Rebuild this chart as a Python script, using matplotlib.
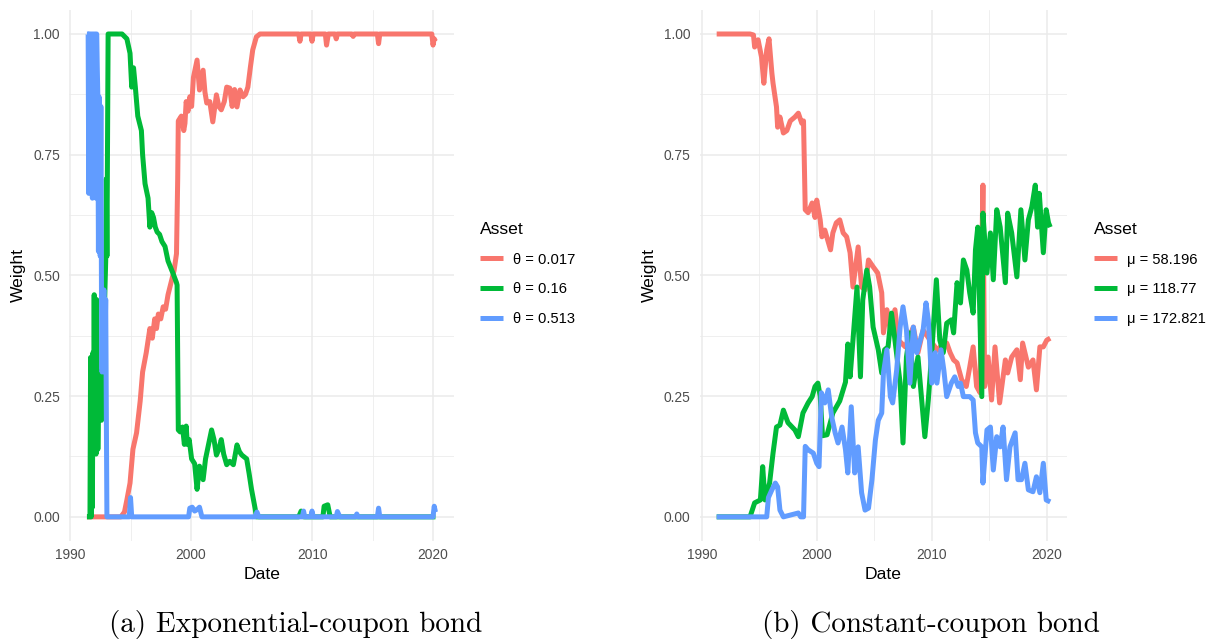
import numpy as np
import matplotlib
matplotlib.use("Agg")
import matplotlib.pyplot as plt

plt.rcParams['font.family'] = ['Liberation Sans', 'DejaVu Sans']

# ggplot default hue palette
COLS = ['#F8766D', '#00BA38', '#619CFF']

# ---- (a) exponential-coupon bond, weights by decay rate theta ----
exp_labels = ['θ = 0.017', 'θ = 0.16', 'θ = 0.513']

exp_r_t = [1991.4, 1994.2, 1994.5, 1994.7, 1994.96, 1995.2, 1995.5, 1995.8, 1996.0, 1996.3,
           1996.6, 1996.8, 1997.0, 1997.15, 1997.3, 1997.5, 1997.7, 1997.9, 1998.1, 1998.4,
           1998.6, 1998.8, 1998.9, 1998.95, 1999.2, 1999.4, 1999.5, 1999.6, 1999.75, 1999.9,
           2000.05, 2000.2, 2000.5, 2000.7, 2001.0, 2001.15, 2001.3, 2001.55, 2001.8, 2002.1,
           2002.3, 2002.5, 2002.75, 2002.95, 2003.2, 2003.4, 2003.6, 2003.8, 2004.05, 2004.3,
           2004.5, 2004.7, 2004.9, 2005.1, 2005.4, 2005.7, 2008.9, 2009.0, 2009.1, 2009.9,
           2010.0, 2010.1, 2011.1, 2011.2, 2011.35, 2011.9, 2012.0, 2012.1, 2013.3, 2013.4,
           2013.5, 2015.4, 2015.5, 2015.6, 2019.9, 2020.0, 2020.1, 2020.2]
exp_r_w = [0, 0, 0.01, 0.035, 0.07, 0.14, 0.174, 0.24, 0.30, 0.34,
           0.39, 0.37, 0.41, 0.39, 0.42, 0.41, 0.435, 0.43, 0.46, 0.49,
           0.51, 0.545, 0.70, 0.82, 0.83, 0.80, 0.815, 0.86, 0.84, 0.87,
           0.85, 0.91, 0.946, 0.884, 0.925, 0.88, 0.857, 0.86, 0.818, 0.874,
           0.85, 0.843, 0.86, 0.89, 0.888, 0.85, 0.885, 0.849, 0.884, 0.87,
           0.875, 0.89, 0.93, 0.967, 0.994, 1.0, 1.0, 0.985, 1.0, 1.0,
           0.985, 1.0, 1.0, 0.977, 1.0, 1.0, 0.99, 1.0, 1.0, 0.995,
           1.0, 1.0, 0.98, 1.0, 1.0, 0.977, 0.99, 0.985]

exp_g_t = [1991.4, 1991.65, 1991.7, 1991.75, 1991.8, 1991.85, 1991.9, 1991.95, 1992.0, 1992.05,
           1992.1, 1992.15, 1992.2, 1992.3, 1992.4, 1992.6, 1992.95, 1993.0, 1993.05, 1993.15,
           1994.3, 1994.5, 1994.7, 1994.96, 1995.1, 1995.25, 1995.4, 1995.6, 1995.9, 1996.0,
           1996.2, 1996.45, 1996.6, 1996.75, 1996.9, 1997.05, 1997.2, 1997.4, 1997.6, 1997.85,
           1998.1, 1998.5, 1998.8, 1998.85, 1998.95, 1999.1, 1999.3, 1999.45, 1999.6, 1999.7,
           1999.85, 2000.05, 2000.3, 2000.5, 2000.7, 2001.0, 2001.2, 2001.4, 2001.7, 2001.9,
           2002.1, 2002.3, 2002.5, 2002.7, 2002.95, 2003.2, 2003.5, 2003.8, 2004.0, 2004.2,
           2004.6, 2004.8, 2005.0, 2005.3, 2005.4, 2008.9, 2009.1, 2009.3, 2010.9, 2011.0,
           2011.3, 2011.5, 2020.2]
exp_g_w = [0, 0, 0.33, 0.0, 0.30, 0.02, 0.34, 0.13, 0.46, 0.15,
           0.44, 0.13, 0.45, 0.14, 0.30, 0.20, 0.53, 0.70, 0.54, 1.0,
           1.0, 0.995, 0.99, 0.96, 0.89, 0.93, 0.89, 0.83, 0.80, 0.75,
           0.69, 0.66, 0.60, 0.63, 0.62, 0.60, 0.59, 0.585, 0.57, 0.56,
           0.53, 0.505, 0.485, 0.48, 0.18, 0.176, 0.186, 0.15, 0.188, 0.15,
           0.16, 0.12, 0.11, 0.057, 0.105, 0.077, 0.12, 0.144, 0.18, 0.16,
           0.128, 0.14, 0.16, 0.13, 0.108, 0.115, 0.108, 0.149, 0.135, 0.128,
           0.12, 0.09, 0.057, 0.017, 0, 0, 0.012, 0, 0, 0.022,
           0.025, 0, 0]

exp_b_t = [1991.4, 1991.5, 1991.55, 1991.6, 1991.7, 1991.75, 1991.85, 1991.9, 1992.0, 1992.05,
           1992.15, 1992.2, 1992.3, 1992.35, 1992.4, 1992.5, 1992.55, 1992.6, 1992.65, 1992.7,
           1992.75, 1992.8, 1992.85, 1992.95, 1993.05, 1994.9, 1995.0, 1995.1, 1999.8, 1999.9,
           2000.1, 2000.3, 2000.5, 2000.7, 2000.9, 2005.3, 2005.45, 2005.6, 2009.2, 2009.3,
           2009.4, 2009.9, 2010.0, 2010.1, 2012.0, 2012.1, 2012.3, 2013.6, 2013.7, 2013.8,
           2015.4, 2015.5, 2015.6, 2020.0, 2020.1, 2020.2]
exp_b_w = [1.0, 1.0, 0.67, 1.0, 0.70, 1.0, 0.66, 1.0, 0.68, 1.0,
           0.66, 1.0, 0.87, 0.55, 0.87, 0.54, 0.85, 0.47, 0.30, 0.46,
           0.31, 0.47, 0.30, 0.45, 0, 0, 0.04, 0, 0, 0.018,
           0.02, 0.012, 0.015, 0.02, 0, 0, 0.01, 0, 0, 0.012,
           0, 0, 0.012, 0, 0, 0.011, 0, 0, 0.006, 0,
           0, 0.018, 0, 0, 0.022, 0.01]

# ---- (b) constant-coupon bond, weights by coupon mu ----
con_labels = ['μ = 58.196', 'μ = 118.77', 'μ = 172.821']

con_r_t = [1991.3, 1994.2, 1994.5, 1994.6, 1994.9, 1995.2, 1995.4, 1995.65, 1995.85, 1996.1,
           1996.2, 1996.5, 1996.6, 1996.8, 1997.1, 1997.4, 1997.7, 1998.1, 1998.4, 1998.7,
           1998.85, 1999.0, 1999.25, 1999.6, 1999.85, 2000.0, 2000.3, 2000.45, 2000.7, 2001.2,
           2001.4, 2001.7, 2002.0, 2002.3, 2002.6, 2002.9, 2003.15, 2003.6, 2003.9, 2004.2,
           2004.5, 2004.9, 2005.3, 2005.65, 2005.8, 2006.1, 2006.4, 2006.8, 2007.1, 2007.7,
           2008.4, 2008.8, 2009.25, 2009.85, 2010.5, 2011.0, 2011.3, 2011.6, 2011.9, 2012.2,
           2012.6, 2013.0, 2013.3, 2013.6, 2013.9, 2014.2, 2014.35, 2014.45, 2014.6, 2014.9,
           2015.2, 2015.5, 2015.9, 2016.4, 2016.6, 2016.95, 2017.4, 2017.7, 2017.9, 2018.4,
           2018.8, 2019.1, 2019.4, 2019.7, 2020.0, 2020.3]
con_r_w = [1.0, 1.0, 0.998, 0.973, 0.988, 0.952, 0.898, 0.967, 0.99, 0.919,
           0.898, 0.849, 0.807, 0.828, 0.795, 0.80, 0.82, 0.828, 0.836, 0.815,
           0.82, 0.636, 0.63, 0.65, 0.62, 0.656, 0.615, 0.58, 0.594, 0.553,
           0.588, 0.609, 0.615, 0.588, 0.58, 0.547, 0.476, 0.559, 0.476, 0.47,
           0.532, 0.518, 0.505, 0.464, 0.381, 0.429, 0.387, 0.429, 0.366, 0.352,
           0.393, 0.34, 0.387, 0.366, 0.345, 0.36, 0.36, 0.34, 0.325, 0.319,
           0.284, 0.27, 0.31, 0.352, 0.27, 0.257, 0.547, 0.687, 0.27, 0.331,
           0.242, 0.352, 0.236, 0.325, 0.298, 0.331, 0.346, 0.284, 0.36, 0.31,
           0.325, 0.263, 0.352, 0.352, 0.366, 0.37]

con_g_t = [1991.3, 1994.2, 1994.6, 1995.1, 1995.3, 1995.5, 1995.9, 1996.2, 1996.5, 1996.8,
           1997.1, 1997.5, 1998.1, 1998.4, 1998.8, 1999.25, 1999.6, 1999.85, 2000.1, 2000.3,
           2000.5, 2000.9, 2001.4, 2002.0, 2002.5, 2002.7, 2002.9, 2003.15, 2003.5, 2003.8,
           2004.0, 2004.35, 2004.6, 2004.9, 2005.35, 2005.65, 2005.9, 2006.2, 2006.5, 2006.8,
           2007.25, 2007.5, 2007.8, 2008.1, 2008.4, 2008.8, 2009.1, 2009.4, 2009.7, 2010.0,
           2010.4, 2010.7, 2011.0, 2011.3, 2011.7, 2011.9, 2012.2, 2012.5, 2012.75, 2013.05,
           2013.3, 2013.6, 2013.8, 2014.0, 2014.35, 2014.45, 2014.8, 2015.1, 2015.35, 2015.65,
           2015.95, 2016.4, 2016.6, 2016.95, 2017.4, 2017.75, 2018.1, 2018.4, 2018.7, 2019.0,
           2019.2, 2019.35, 2019.7, 2019.95, 2020.15, 2020.3]
con_g_w = [0, 0, 0.029, 0.035, 0.104, 0.035, 0.07, 0.132, 0.186, 0.19,
           0.221, 0.195, 0.18, 0.166, 0.215, 0.236, 0.249, 0.27, 0.277, 0.25,
           0.168, 0.17, 0.215, 0.24, 0.279, 0.358, 0.29, 0.366, 0.476, 0.29,
           0.449, 0.511, 0.476, 0.393, 0.346, 0.298, 0.346, 0.352, 0.422, 0.366,
           0.277, 0.153, 0.331, 0.381, 0.27, 0.331, 0.249, 0.166, 0.242, 0.34,
           0.491, 0.366, 0.34, 0.401, 0.408, 0.381, 0.485, 0.443, 0.532, 0.511,
           0.464, 0.422, 0.553, 0.60, 0.249, 0.629, 0.505, 0.588, 0.491, 0.636,
           0.60, 0.485, 0.629, 0.588, 0.497, 0.636, 0.532, 0.615, 0.642, 0.687,
           0.60, 0.67, 0.547, 0.636, 0.609, 0.60]

con_b_t = [1991.3, 1995.65, 1995.8, 1996.1, 1996.4, 1996.6, 1996.8, 1997.1, 1998.4, 1998.6,
           1998.85, 1999.0, 1999.25, 1999.7, 2000.0, 2000.2, 2000.4, 2000.7, 2001.0, 2001.3,
           2001.6, 2001.85, 2002.2, 2002.5, 2002.7, 2003.0, 2003.3, 2003.6, 2003.9, 2004.2,
           2004.5, 2004.8, 2005.1, 2005.35, 2005.65, 2005.8, 2006.1, 2006.4, 2006.6, 2006.95,
           2007.25, 2007.5, 2007.8, 2008.1, 2008.4, 2008.7, 2009.0, 2009.25, 2009.5, 2009.7,
           2010.0, 2010.3, 2010.45, 2010.8, 2011.05, 2011.3, 2011.7, 2012.0, 2012.3, 2012.5,
           2012.75, 2013.3, 2013.6, 2013.8, 2014.0, 2014.35, 2014.45, 2014.8, 2015.1, 2015.35,
           2015.65, 2015.95, 2016.2, 2016.5, 2016.8, 2017.25, 2017.5, 2017.8, 2018.1, 2018.4,
           2018.8, 2019.1, 2019.4, 2019.7, 2019.95, 2020.3]
con_b_w = [0, 0, 0.04, 0.056, 0.07, 0.062, 0.014, 0, 0.008, 0,
           0, 0.146, 0.139, 0.132, 0.111, 0.104, 0.257, 0.236, 0.263, 0.207,
           0.174, 0.153, 0.186, 0.139, 0.091, 0.228, 0.091, 0.145, 0.05, 0.014,
           0.018, 0.077, 0.159, 0.20, 0.215, 0.298, 0.346, 0.249, 0.236, 0.304,
           0.393, 0.435, 0.387, 0.277, 0.393, 0.34, 0.366, 0.387, 0.443, 0.408,
           0.277, 0.34, 0.277, 0.346, 0.304, 0.249, 0.277, 0.29, 0.27, 0.277,
           0.249, 0.249, 0.242, 0.174, 0.153, 0.145, 0.07, 0.18, 0.186, 0.097,
           0.166, 0.145, 0.186, 0.077, 0.145, 0.174, 0.077, 0.077, 0.111, 0.056,
           0.052, 0.083, 0.05, 0.111, 0.035, 0.031]

xticks = [1990, 2000, 2010, 2020]
yticks = [0, 0.25, 0.5, 0.75, 1.0]
ytick_labels = ['0.00', '0.25', '0.50', '0.75', '1.00']

W, H = 1210, 640
fig = plt.figure(figsize=(W / 100, H / 100), dpi=100)


def px_axes(left, right, top, bottom):
    return fig.add_axes([left / W, 1 - bottom / H, (right - left) / W, (bottom - top) / H])


def style(ax, xlim):
    ax.set_xlim(*xlim)
    ax.set_ylim(-0.05, 1.05)
    for s in ax.spines.values():
        s.set_visible(False)
    ax.set_xticks(xticks)
    ax.set_xticks([1995, 2005, 2015], minor=True)
    ax.set_yticks(yticks)
    ax.set_yticklabels(ytick_labels)
    ax.set_yticks([0.125, 0.375, 0.625, 0.875], minor=True)
    ax.grid(which='major', color='#EBEBEB', lw=1.1)
    ax.grid(which='minor', color='#EBEBEB', lw=0.55)
    ax.set_axisbelow(True)
    ax.tick_params(which='both', length=0, labelsize=9.9, labelcolor='#4D4D4D')
    ax.tick_params(axis='y', pad=6.8)
    ax.tick_params(axis='x', pad=5.0)
    ax.set_xlabel('Date', fontsize=12.6)
    ax.set_ylabel('Weight', fontsize=12.6)


def draw(ax, series, labels, legend_x):
    for (t, w), c, lab in zip(series, COLS, labels):
        ax.plot(t, w, color=c, lw=3.6, label=lab, solid_joinstyle='round', solid_capstyle='butt')
    leg = ax.legend(loc='upper left', bbox_to_anchor=(legend_x / W, 1 - 222 / H),
                    bbox_transform=fig.transFigure, frameon=False, title='Asset',
                    fontsize=10.6, title_fontsize=12.6, alignment='left',
                    borderpad=0, borderaxespad=0, handlelength=1.59,
                    handletextpad=0.68, labelspacing=1.06)
    for h in leg.legend_handles:
        h.set_linewidth(3.6)


ax1 = px_axes(69.4, 454.2, 9.85, 541.0)
style(ax1, (1989.95, 2021.75))
draw(ax1, [(exp_r_t, exp_r_w), (exp_g_t, exp_g_w), (exp_b_t, exp_b_w)], exp_labels, 480)
ax1.yaxis.set_label_coords(-0.133, 0.5)
ax1.xaxis.set_label_coords(0.5, -0.064)

ax2 = px_axes(700.0, 1066.9, 9.85, 541.0)
style(ax2, (1989.85, 2021.75))
draw(ax2, [(con_r_t, con_r_w), (con_g_t, con_g_w), (con_b_t, con_b_w)], con_labels, 1094)
ax2.yaxis.set_label_coords(-0.139, 0.5)
ax2.xaxis.set_label_coords(0.5, -0.064)

for ax in (ax1, ax2):
    ax.yaxis.label.set_va('center')
    ax.xaxis.label.set_va('center')

fig.text(296 / W, 1 - 632 / H, '(a) Exponential-coupon bond', family='cmr10',
         fontsize=21, ha='center', va='baseline')
fig.text(931 / W, 1 - 632 / H, '(b) Constant-coupon bond', family='cmr10',
         fontsize=21, ha='center', va='baseline')

fig.savefig('out.png', dpi=100)
